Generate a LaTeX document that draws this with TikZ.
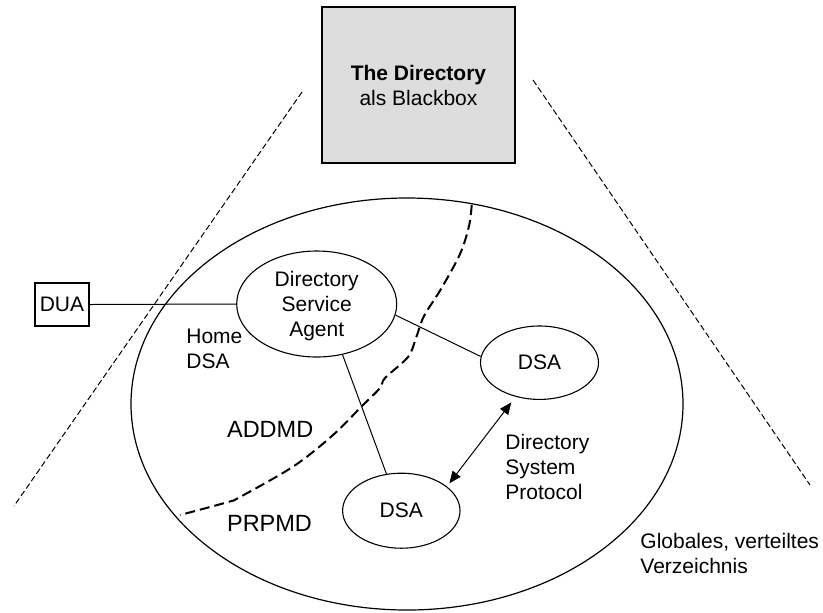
\documentclass[tikz,border=0pt]{standalone}
\usepackage{fontspec}
\setmainfont{Liberation Sans}
\usetikzlibrary{arrows.meta,shapes.geometric}
\definecolor{boxgray}{RGB}{221,221,221}
\begin{document}
\begin{tikzpicture}[x=0.5pt,y=-0.5pt,
  every node/.style={font=\fontsize{10.5pt}{12.5pt}\selectfont},
  agentnode/.style={draw, ellipse, line width=0.55pt, inner sep=0pt},
  txt/.style={inner sep=0pt, align=left},
  mdlabel/.style={inner sep=0pt, font=\fontsize{11.75pt}{14pt}\selectfont},
  link/.style={line width=0.5pt},
  sidedash/.style={line width=0.5pt, dash pattern=on 3pt off 1.5pt},
  zonedash/.style={line width=1pt, dash pattern=on 5pt off 2.5pt},
  biarrow/.style={line width=0.5pt,
    {Triangle[length=6pt,width=5pt]}-{Triangle[length=6pt,width=5pt]}},
]
\useasboundingbox (0,0) rectangle (823,612);

% global, distributed directory
\node[agentnode, line width=0.6pt, minimum width=276pt, minimum height=206pt] (globe) at (407,404) {};

% the directory seen from outside
\node[draw, fill=boxgray, line width=0.6pt, inner sep=0pt, align=center,
      minimum width=96.5pt, minimum height=78pt] (box) at (418.5,85)
      {\textbf{The Directory}\\als Blackbox};

% view cone
\coordinate (l1) at (302,92);
\coordinate (l2) at (14,506);
\coordinate (r1) at (533,80);
\coordinate (r2) at (810,485);
\draw[sidedash] (l1) -- (l2);
\draw[sidedash] (r1) -- (r2);

% agents
\node[draw, line width=0.55pt, inner sep=0pt, minimum width=27pt, minimum height=21.5pt] (dua) at (62,304.5) {DUA};
\node[agentnode, minimum width=80pt, minimum height=53pt, align=center, text depth=0pt] (home) at (316.7,304)
      {Directory\\Service\\Agent};
\node[agentnode, minimum width=59pt, minimum height=36.7pt] (dsaR) at (539.5,362.7) {DSA};
\node[agentnode, minimum width=58.7pt, minimum height=37.5pt] (dsaB) at (401.3,510.7) {DSA};

% management domain boundary
\draw[zonedash] plot[smooth, tension=0.55] coordinates {(471.7,205) (469,226) (460,254) (441,289) (424,316) (416,338) (408,357) (385,378) (380,388) (362,406) (333,435) (294,466) (240,497) (228,502) (180,515)};

% connections
\draw[link] (dua.east) -- (home.west);
\draw[link] (home.-8.7) -- (dsaR.174.8);
\draw[link] (home.-63.6) -- (dsaB.112.6);
\draw[biarrow, shorten <=3.5pt, shorten >=2pt] (dsaR.-125.2) -- (dsaB.28.6);

% labels (base anchor sits on the last line)
\node[txt, anchor=base west] (homelbl) at (186,368) {Home\\DSA};
\node[mdlabel, anchor=base west] (addmd) at (226.7,437.3) {ADDMD};
\node[mdlabel, anchor=base west] (prpmd) at (226.7,531.7) {PRPMD};
\node[txt, anchor=base west] (dsp) at (505,499.3) {Directory\\System\\Protocol};
\node[txt, anchor=base west] (glob) at (640,573.3) {Globales, verteiltes\\Verzeichnis};
\end{tikzpicture}
\end{document}
